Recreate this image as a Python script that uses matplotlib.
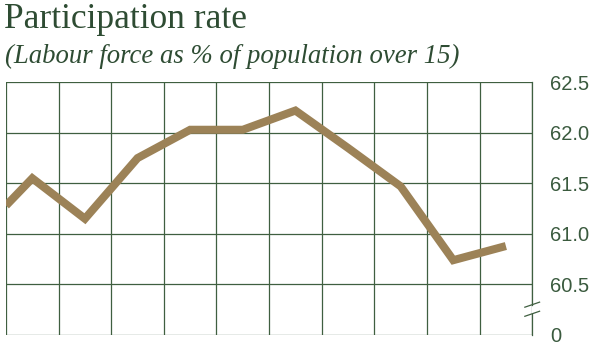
import matplotlib
matplotlib.use('Agg')
import matplotlib.pyplot as plt

# participation rate, one point per column (first point sits on the left edge)
positions = [0, 0.5, 1.5, 2.5, 3.5, 4.5, 5.5, 6.5, 7.5, 8.5, 9.5]
rate = [61.28, 61.55, 61.15, 61.75, 62.03, 62.03, 62.22, 61.85, 61.47, 60.74, 60.88]

y_ticks = [60.0, 60.5, 61.0, 61.5, 62.0, 62.5]
y_labels = ['0', '60.5', '61.0', '61.5', '62.0', '62.5']
n_cols = 10

grid_col = '#3f5f40'
text_col = '#3a5a3e'
line_col = '#9c8257'

fig = plt.figure(figsize=(6.0, 3.53), dpi=100)
ax = fig.add_axes([0.01, 0.051, 0.877, 0.716])

ax.plot(positions, rate, color=line_col, lw=5.8, solid_joinstyle='miter',
        solid_capstyle='butt', zorder=3)

ax.set_xlim(0, n_cols)
ax.set_ylim(y_ticks[0], y_ticks[-1])

for x in range(n_cols + 1):
    ax.axvline(x, color=grid_col, lw=0.9, zorder=1)
for y in y_ticks:
    ax.axhline(y, color=grid_col, lw=0.9, zorder=1)

for s in ax.spines.values():
    s.set_visible(False)

# right edge with axis break between 0 and 60.5
brk_hi, brk_lo = 60.3, 60.21
ax.plot([n_cols, n_cols], [brk_hi, y_ticks[-1]], color=grid_col, lw=0.9, clip_on=False)
ax.plot([n_cols, n_cols], [y_ticks[0], brk_lo], color=grid_col, lw=0.9, clip_on=False)
for yb in (brk_hi, brk_lo):
    ax.plot([n_cols - 0.14, n_cols + 0.14], [yb - 0.025, yb + 0.025],
            color=grid_col, lw=0.9, clip_on=False)

ax.set_xticks([])
ax.yaxis.tick_right()
ax.set_yticks(y_ticks)
ax.set_yticklabels(y_labels)
ax.tick_params(axis='y', length=0, pad=13, labelsize=14.5, labelcolor=text_col)
for lab in ax.get_yticklabels():
    lab.set_family('Liberation Sans')

fig.text(0.006, 0.92, 'Participation rate', family='Liberation Serif',
         fontsize=25.5, color='#2e4c33', va='baseline', ha='left')
fig.text(0.008, 0.822, '(Labour force as % of population over 15)',
         family='Liberation Serif', style='italic', fontsize=19.3,
         color='#2e4c33', va='baseline', ha='left')

fig.savefig('out.png', dpi=100, facecolor='white')
